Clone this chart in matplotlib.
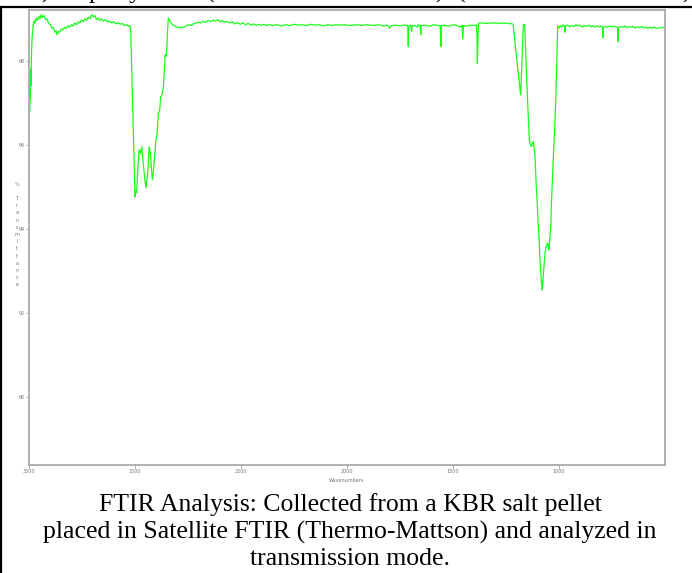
import matplotlib
matplotlib.use("Agg")
import matplotlib.pyplot as plt
from matplotlib.lines import Line2D

# FTIR spectrum (wavenumber cm-1, % transmittance)
wavenumber = [
    3500, 3498, 3497, 3496, 3494, 3493, 3491, 3488, 3485, 3480, 3476, 3472,
    3466, 3460, 3454, 3448, 3442, 3436, 3429, 3422, 3415, 3408, 3400, 3392,
    3385, 3378, 3372, 3368, 3362, 3355, 3348, 3340, 3332, 3324, 3316, 3308,
    3300, 3292, 3284, 3276, 3268, 3260, 3252, 3244, 3236, 3228, 3220, 3212,
    3205, 3198, 3190, 3182, 3175, 3168, 3160, 3150, 3140, 3130, 3120, 3110,
    3100, 3090, 3080, 3070, 3060, 3050, 3040, 3030, 3024, 3020, 3008, 3000,
    2996, 2992, 2986, 2980, 2974, 2968, 2962, 2958, 2952, 2948, 2944, 2940,
    2936, 2933, 2929, 2926, 2922, 2918, 2914, 2908, 2901, 2895, 2890, 2884,
    2879, 2872, 2866, 2862, 2858, 2854, 2850, 2846, 2843, 2838, 2832, 2827,
    2818, 2808, 2798, 2788, 2780, 2772, 2760, 2748, 2736, 2724, 2712, 2700,
    2690, 2680, 2668, 2656, 2644, 2632, 2620, 2610, 2600, 2590, 2578, 2566,
    2554, 2540, 2528, 2516, 2504, 2490, 2478, 2466, 2452, 2440, 2428, 2416,
    2404, 2390, 2378, 2366, 2350, 2330, 2310, 2290, 2270, 2250, 2230, 2210,
    2190, 2170, 2150, 2130, 2110, 2090, 2070, 2050, 2030, 2010, 1990, 1970,
    1950, 1930, 1910, 1890, 1870, 1850, 1830, 1810, 1800, 1790, 1770, 1750,
    1730, 1716, 1713, 1711, 1709, 1700, 1695, 1693, 1680, 1668, 1665, 1655,
    1652, 1650, 1630, 1610, 1590, 1570, 1560, 1557, 1555, 1540, 1520, 1500,
    1480, 1465, 1457, 1454, 1451, 1440, 1420, 1400, 1390, 1387, 1385, 1383,
    1380, 1376, 1360, 1340, 1320, 1300, 1280, 1260, 1240, 1220, 1216, 1205,
    1190, 1181, 1176, 1170, 1168, 1162, 1158, 1152, 1146, 1140, 1135, 1129,
    1125, 1121, 1117, 1113, 1108, 1102, 1098, 1094, 1090, 1086, 1082, 1079,
    1075, 1071, 1066, 1061, 1057, 1053, 1050, 1047, 1043, 1039, 1035, 1030,
    1025, 1020, 1015, 1011, 1008, 1006, 1000, 994, 988, 980, 974, 972,
    970, 960, 950, 940, 930, 920, 910, 900, 890, 880, 870, 860,
    850, 840, 830, 820, 810, 800, 795, 793, 791, 780, 770, 760,
    750, 740, 730, 724, 722, 720, 710, 700, 690, 680, 670, 660,
    650, 640, 630, 620, 610, 600, 590, 580, 570, 560, 550, 540,
    530, 520, 510, 502,
]
transmittance = [
    96.15, 97.3, 96.8, 97.6, 97.1, 97.8, 97.4, 98.2, 98.6, 98.85, 98.95, 98.9,
    99.02, 98.96, 99.06, 99.0, 99.1, 99.03, 99.08, 98.98, 99.0, 98.9, 98.86, 98.78,
    98.8, 98.68, 98.72, 98.62, 98.7, 98.68, 98.76, 98.73, 98.8, 98.77, 98.84, 98.8,
    98.86, 98.83, 98.9, 98.86, 98.93, 98.9, 98.97, 98.93, 99.0, 98.96, 99.04, 99.0,
    99.1, 99.05, 99.08, 98.98, 99.02, 98.96, 99.0, 98.95, 98.98, 98.92, 98.95, 98.9,
    98.93, 98.88, 98.91, 98.87, 98.89, 98.84, 98.86, 98.82, 98.84, 98.7, 96.29, 94.76,
    94.9, 94.86, 95.5, 95.88, 95.8, 95.95, 95.6, 95.4, 95.1, 94.98, 95.15, 95.33,
    95.7, 95.95, 95.85, 95.71, 95.4, 95.17, 95.33, 95.7, 96.12, 96.3, 96.76, 96.8,
    97.14, 97.2, 97.38, 97.7, 98.14, 98.1, 98.33, 98.7, 99.02, 98.96, 98.92, 98.88,
    98.84, 98.82, 98.8, 98.78, 98.8, 98.79, 98.83, 98.86, 98.84, 98.88, 98.9, 98.92,
    98.9, 98.94, 98.92, 98.96, 98.93, 98.97, 98.95, 98.98, 98.93, 98.96, 98.92, 98.94,
    98.9, 98.93, 98.88, 98.91, 98.87, 98.9, 98.86, 98.89, 98.85, 98.88, 98.84, 98.87,
    98.85, 98.87, 98.84, 98.86, 98.84, 98.86, 98.83, 98.86, 98.84, 98.87, 98.85, 98.86,
    98.84, 98.87, 98.85, 98.86, 98.83, 98.86, 98.84, 98.86, 98.85, 98.86, 98.84, 98.85,
    98.86, 98.84, 98.86, 98.85, 98.84, 98.86, 98.83, 98.85, 98.78, 98.84, 98.85, 98.83,
    98.85, 98.85, 98.8, 98.34, 98.82, 98.85, 98.7, 98.84, 98.84, 98.8, 98.86, 98.84,
    98.62, 98.84, 98.85, 98.82, 98.86, 98.84, 98.83, 98.34, 98.84, 98.85, 98.82, 98.86,
    98.84, 98.8, 98.85, 98.52, 98.84, 98.82, 98.85, 98.84, 98.85, 98.6, 97.94, 98.4,
    98.88, 98.9, 98.9, 98.89, 98.9, 98.9, 98.89, 98.9, 98.89, 98.88, 98.86, 98.3,
    97.6, 97.19, 97.8, 98.7, 98.86, 98.86, 98.3, 97.48, 96.8, 96.12, 96.0, 95.96,
    96.05, 96.08, 95.9, 95.72, 95.1, 94.53, 94.1, 93.78, 93.3, 92.95, 92.7, 92.55,
    92.8, 93.1, 93.4, 93.58, 93.62, 93.66, 93.6, 93.5, 93.8, 94.05, 94.7, 95.33,
    95.9, 96.44, 97.1, 97.86, 98.4, 98.83, 98.78, 98.84, 98.8, 98.86, 98.82, 98.68,
    98.83, 98.85, 98.81, 98.84, 98.82, 98.86, 98.83, 98.85, 98.8, 98.84, 98.82, 98.85,
    98.81, 98.84, 98.8, 98.83, 98.81, 98.83, 98.8, 98.55, 98.8, 98.82, 98.8, 98.83,
    98.81, 98.82, 98.8, 98.8, 98.46, 98.79, 98.82, 98.8, 98.83, 98.79, 98.82, 98.8,
    98.82, 98.78, 98.81, 98.79, 98.82, 98.78, 98.8, 98.77, 98.8, 98.78, 98.8, 98.77,
    98.79, 98.78, 98.8, 98.79,
]

x_ticks = [3500, 3000, 2500, 2000, 1500, 1000]
y_ticks = [90, 92, 94, 96, 98]
ylabel_chars = ["%", "", "T", "r", "a", "n", "s", "m", "i", "t", "t", "a", "n", "c", "e"]

caption = [
    "FTIR Analysis: Collected from a KBR salt pellet",
    "placed in Satellite FTIR (Thermo-Mattson) and analyzed in",
    "transmission mode.",
]
# glyph bottoms of the cut-off text line above the figure
top_fragments = [(45, ")"), (95, "p"), (135, "y"), (210, "("), (439, ")"), (461, "("), (686, ")")]

W, H = 692, 573
fig = plt.figure(figsize=(W / 100, H / 100), dpi=100)

ax = fig.add_axes([29 / W, 1 - 465 / H, (665 - 29) / W, (465 - 10) / H])
ax.plot(wavenumber, transmittance, color="#1aff1a", lw=0.9)
ax.set_xlim(3500, 500)
ax.set_ylim(88.38, 99.21)
ax.set_xticks(x_ticks)
ax.set_yticks(y_ticks)
ax.tick_params(length=2, width=0.6, color="#999999", labelsize=3.5,
               labelcolor="#777777", pad=1)
for s in ax.spines.values():
    s.set_color("#aaaaaa")
    s.set_linewidth(1.3)
ax.set_xlabel("Wavenumbers", fontsize=3.5, color="#777777", labelpad=3)

# stacked y label
for i, ch in enumerate(ylabel_chars):
    fig.text(17 / W, 1 - (184 + 7.2 * i) / H, ch, fontsize=3.5, color="#777777",
             ha="center", va="center")

# caption below the chart, serif like the document text
for i, line in enumerate(caption):
    fig.text(350 / W, 1 - (511 + 27.2 * i) / H, line, fontsize=18.5,
             family="Liberation Serif", ha="center", va="baseline")

for xp, ch in top_fragments:
    fig.text(xp / W, 1 + 2 / H, ch, fontsize=18.5, family="Liberation Serif",
             ha="center", va="baseline")

# document frame lines
fig.add_artist(Line2D([0, 1], [1 - 7 / H, 1 - 7 / H], color="black", lw=1.6,
                      transform=fig.transFigure))
fig.add_artist(Line2D([0.5 / W, 0.5 / W], [0, 1 - 7 / H], color="black", lw=1.6,
                      transform=fig.transFigure))

fig.savefig("out.png", dpi=100)
